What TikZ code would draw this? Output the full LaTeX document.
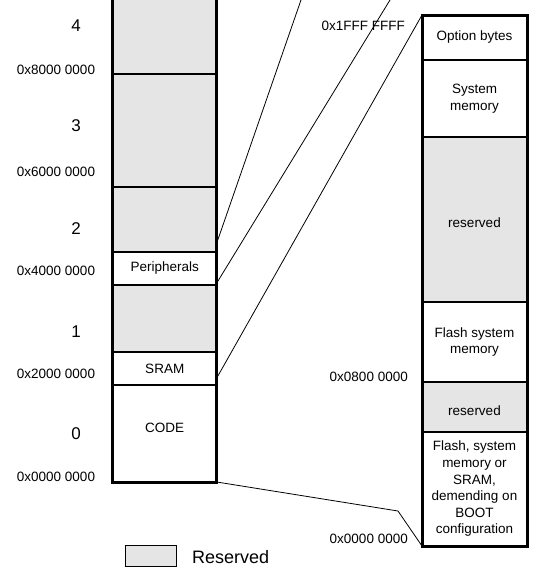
\documentclass[tikz,border=0pt]{standalone}
\usepackage{fontspec}
\setmainfont{Liberation Sans}
\begin{document}
\begin{tikzpicture}[x=1pt,y=-1pt,
  region/.style={draw,line width=1.6pt,inner sep=0pt,outer sep=0pt,minimum width=104pt,align=center,font=\fontsize{13.5}{16.6}\selectfont},
  resv/.style={region,fill=gray!20,text height=17pt},
  addr/.style={inner sep=0pt,font=\fontsize{13.5}{16}\selectfont},
  num/.style={inner sep=0pt,font=\fontsize{17}{20}\selectfont},
  col/.style={line width=3pt},
  link/.style={line width=0.8pt}]
  \clip (0,0) rectangle (540,573);
  % mapa completo (izquierda)
  \node[resv,minimum height=84pt] (r4) at (164.75,32) {};
  \node[resv,minimum height=113pt] (r3) at (164.75,130.5) {};
  \node[resv,minimum height=65pt] (r2) at (164.75,219.5) {};
  \node[region,minimum height=33pt] (per) at (164.75,268.5) {Peripherals};
  \node[resv,minimum height=67pt] (r1) at (164.75,318.5) {};
  \node[region,minimum height=33pt] (sram) at (164.75,368.5) {SRAM};
  \node[region,minimum height=97pt] (code) at (164.75,433.5) {};
  \node[addr] (codelbl) at ([yshift=5.5pt]code.center) {CODE};
  % bloques y direcciones
  \node[num] (n4) at (76,26) {4};
  \node[addr] (a8) at (56,70) {0x8000 0000};
  \node[num] (n3) at (76,126) {3};
  \node[addr] (a6) at (56,172) {0x6000 0000};
  \node[num] (n2) at (76,229) {2};
  \node[addr] (a4) at (56,271) {0x4000 0000};
  \node[num] (n1) at (76,332) {1};
  \node[addr] (a2) at (56,374) {0x2000 0000};
  \node[num] (n0) at (76,434) {0};
  \node[addr] (a0) at (56,477) {0x0000 0000};
  % detalle del bloque 0 (derecha)
  \node[region,minimum width=105pt,minimum height=45pt] (opt) at (474.5,37.5) {Option bytes};
  \node[region,minimum width=105pt,minimum height=77pt] (sys) at (474.5,98.5) {System\\memory};
  \node[resv,minimum width=105pt,minimum height=165pt] (resa) at (474.5,219.5) {reserved};
  \node[region,minimum width=105pt,minimum height=80pt] (fsys) at (474.5,342) {Flash system\\memory};
  \node[resv,minimum width=105pt,minimum height=50pt] (resb) at (474.5,407) {reserved};
  \node[region,minimum width=105pt,minimum height=114pt] (boot) at (474.5,489)
    {Flash, system\\memory or\\SRAM,\\demending on\\BOOT\\configuration};
  \node[addr,anchor=east] (a1f) at (405,26) {0x1FFF FFFF};
  \node[addr,anchor=east] (a08) at (408,377) {0x0800 0000};
  \node[addr,anchor=east] (a00) at (408,539) {0x0000 0000};
  % lineas de ampliacion
  \coordinate (t1) at (301,0);
  \coordinate (t2) at (390,0);
  \coordinate (k) at (398,511);
  \draw[link] ([yshift=9pt]per.north east) -- (t1);
  \draw[link] ([yshift=2pt]per.south east) -- (t2);
  \draw[link] ([yshift=7pt]sram.south east) -- (opt.north west);
  \draw[link] (code.south east) -- (k) -- (boot.south west);
  % bordes exteriores
  \draw[col] (r4.north west) rectangle (code.south east);
  \draw[col] (opt.north west) rectangle (boot.south east);
  % leyenda
  \node[draw,fill=gray!20,line width=0.8pt,inner sep=0pt,minimum width=51pt,minimum height=21pt] (leg) at (151,556) {};
  \node[inner sep=0pt,anchor=west,font=\fontsize{18}{20}\selectfont] (legtxt) at (192,557) {Reserved};
\end{tikzpicture}
\end{document}
